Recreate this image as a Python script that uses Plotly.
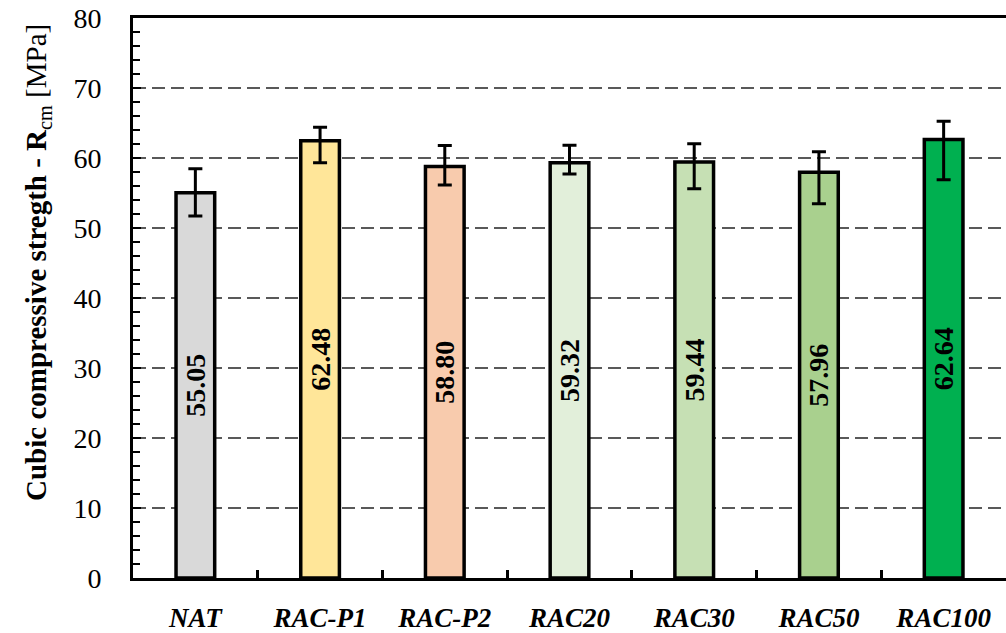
import plotly.graph_objects as go

# Mix designs and their mean cubic compressive strength (MPa)
categories = ["NAT", "RAC-P1", "RAC-P2", "RAC20", "RAC30", "RAC50", "RAC100"]
strength = [55.05, 62.48, 58.80, 59.32, 59.44, 57.96, 62.64]
err_plus = [3.4, 1.9, 3.0, 2.5, 2.6, 2.95, 2.6]
err_minus = [3.35, 3.15, 2.65, 1.6, 3.85, 4.5, 5.75]
bar_colors = ["#d9d9d9", "#ffe699", "#f8cbad", "#e2efda", "#c6e0b4", "#a9d08e", "#00b050"]
y_ticks = [0, 10, 20, 30, 40, 50, 60, 70, 80]

SERIF = "Liberation Serif"

fig = go.Figure(
    go.Bar(
        x=categories,
        y=strength,
        width=0.31,
        marker=dict(color=bar_colors, line=dict(color="black", width=3.5)),
        error_y=dict(
            type="data",
            symmetric=False,
            array=err_plus,
            arrayminus=err_minus,
            color="black",
            thickness=3,
            width=7,
        ),
        texttemplate="%{y:.2f}",
        textposition="inside",
        insidetextanchor="middle",
        textangle=-90,
        textfont=dict(family=SERIF, size=28, color="black", weight="bold"),
        cliponaxis=False,
    )
)

fig.update_layout(
    width=1006,
    height=633,
    margin=dict(l=133, r=0, t=18, b=48),
    paper_bgcolor="white",
    plot_bgcolor="white",
    showlegend=False,
    font=dict(family=SERIF, color="black"),
)

fig.update_xaxes(
    type="category",
    showline=True,
    linecolor="black",
    linewidth=3,
    mirror=True,
    ticks="inside",
    tickson="boundaries",
    ticklen=8,
    tickwidth=2.5,
    tickcolor="black",
    ticklabelstandoff=14,
    tickfont=dict(family=SERIF, size=27, color="black", weight="bold", style="italic"),
    showgrid=False,
)

fig.update_yaxes(
    range=[0, 80],
    tickvals=y_ticks,
    ticktext=[str(v) for v in y_ticks],
    showline=True,
    linecolor="black",
    linewidth=3,
    mirror=False,
    ticks="inside",
    ticklen=8,
    tickwidth=2,
    tickcolor="black",
    ticklabelstandoff=23,
    tickfont=dict(family=SERIF, size=28, color="black"),
    showgrid=True,
    gridcolor="#595959",
    gridwidth=2,
    griddash="13px,6px",
    zeroline=False,
    minor=dict(dtick=2, ticks="inside", ticklen=7, tickwidth=2, tickcolor="black", showgrid=False),
)

# Axis title, placed as a rotated annotation left of the tick labels
fig.add_annotation(
    text="<b>Cubic compressive stregth - R</b><sub>cm</sub> [MPa]",
    xref="paper",
    yref="paper",
    x=-0.109,
    y=0.564,
    xanchor="center",
    yanchor="middle",
    textangle=-90,
    showarrow=False,
    font=dict(family=SERIF, size=29, color="black"),
)

fig.write_html("out.html")
